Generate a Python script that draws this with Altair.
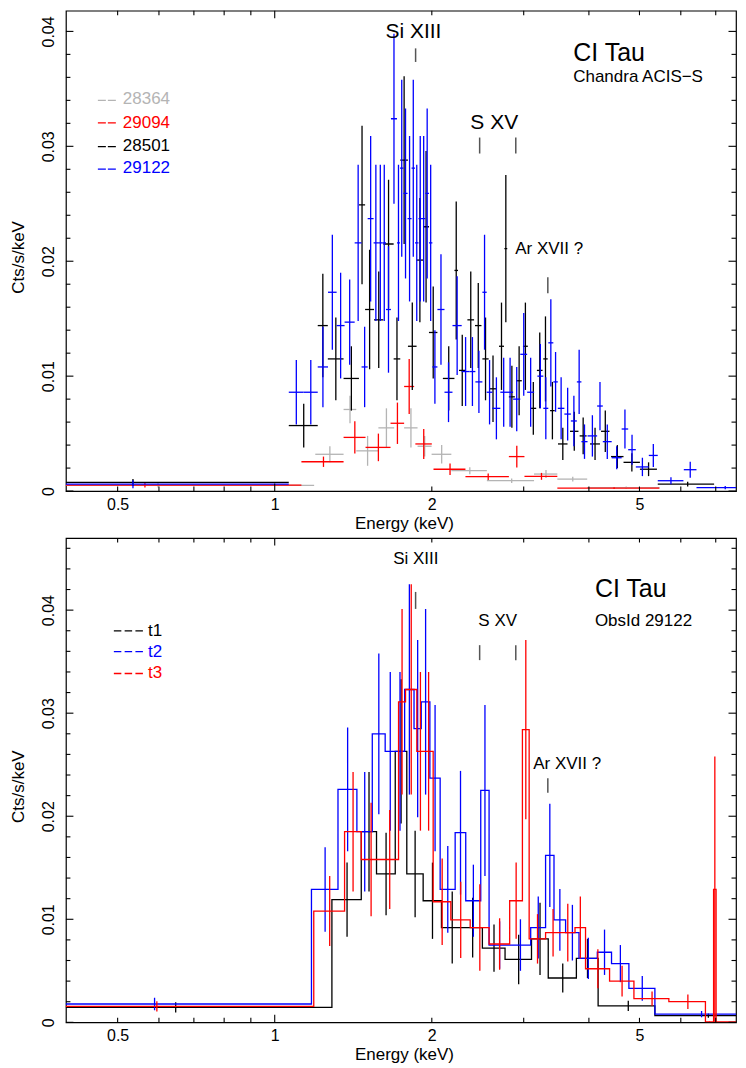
import altair as alt
import pandas as pd

FONT = "Liberation Sans"

# ---------------- top panel: four Chandra ObsIDs (grouped bins) ----------------
# bin low / high edge (keV), rate (cts/s/keV), 1-sigma error
gray_lo = [0.005, 1.196, 1.355, 1.433, 1.58, 1.77, 1.878, 1.998, 2.18, 2.55, 3.14, 3.48, 3.97]
gray_hi = [1.19, 1.355, 1.433, 1.58, 1.694, 1.878, 1.998, 2.18, 2.55, 3.14, 3.48, 3.97, 5.46]
gray_rate = [0.0005, 0.0032, 0.0071, 0.0035, 0.0055, 0.0055, 0.0039, 0.0032, 0.00177, 0.0009, 0.00148, 0.00104, 0.0003]
gray_err = [0.0002, 0.0007, 0.0012, 0.0013, 0.0017, 0.0017, 0.0009, 0.0008, 0.0003, 0.0002, 0.00035, 0.0002, 0.0001]

red_lo = [0.003, 1.125, 1.355, 1.493, 1.667, 1.77, 1.86, 2.015, 2.32, 2.81, 3.01, 3.48]
red_hi = [1.125, 1.355, 1.493, 1.667, 1.77, 1.85, 2.0, 2.32, 2.81, 3.01, 3.48, 5.46]
red_rate = [0.00052, 0.00255, 0.00467, 0.0038, 0.0059, 0.0091, 0.0041, 0.0019, 0.00125, 0.003, 0.00128, 0.00026]
red_err = [0.0002, 0.00045, 0.0014, 0.0012, 0.0018, 0.0024, 0.0013, 0.0005, 0.00028, 0.00095, 0.0003, 0.00008]

black_lo = [0.006, 1.064, 1.209, 1.264, 1.355, 1.450, 1.49, 1.55, 1.615, 1.69, 1.74, 1.80, 1.87, 1.925,
            1.975, 2.10, 2.21, 2.255, 2.34, 2.42, 2.50, 2.58, 2.69, 2.755, 2.81, 2.905, 2.99, 3.09, 3.18,
            3.27, 3.37, 3.49, 3.68, 3.84, 4.02, 4.22, 4.41, 4.66, 5.01, 5.42]
black_hi = [1.064, 1.209, 1.264, 1.355, 1.450, 1.49, 1.55, 1.615, 1.69, 1.74, 1.80, 1.87, 1.925, 1.975,
            2.05, 2.21, 2.245, 2.32, 2.41, 2.49, 2.57, 2.66, 2.75, 2.79, 2.885, 2.975, 3.055, 3.17, 3.26,
            3.335, 3.44, 3.64, 3.82, 3.96, 4.2, 4.38, 4.66, 5.01, 5.40, 6.95]
black_rate = [0.00076, 0.0057, 0.0144, 0.0115, 0.0098, 0.0249, 0.0158, 0.0149, 0.0215, 0.0115, 0.0288,
              0.0126, 0.0201, 0.023, 0.0138, 0.0098, 0.0192, 0.0105, 0.0149, 0.0144, 0.0115, 0.0089,
              0.0126, 0.0211, 0.0082, 0.0096, 0.0126, 0.0072, 0.0105, 0.0115, 0.007, 0.0041, 0.0052,
              0.0048, 0.0041, 0.0052, 0.003, 0.0025, 0.0019, 0.0006]
black_err = [0.0003, 0.0019, 0.0045, 0.0036, 0.0028, 0.0069, 0.0052, 0.0042, 0.0056, 0.0036, 0.0073,
             0.0038, 0.0054, 0.0066, 0.004, 0.0028, 0.006, 0.0031, 0.0042, 0.0037, 0.0036, 0.0029,
             0.0038, 0.0064, 0.0027, 0.003, 0.0038, 0.0023, 0.0033, 0.0037, 0.0025, 0.0014, 0.0017,
             0.0016, 0.0014, 0.0018, 0.001, 0.0008, 0.0006, 0.0002]

blue_lo = [0.006, 1.064, 1.136, 1.209, 1.265, 1.314, 1.361, 1.423, 1.467, 1.507, 1.547, 1.578, 1.609,
           1.634, 1.670, 1.715, 1.738, 1.765, 1.797, 1.829, 1.857, 1.886, 1.915, 1.944, 1.975, 2.005,
           2.050, 2.115, 2.191, 2.282, 2.361, 2.424, 2.500, 2.548, 2.613, 2.706, 2.787, 2.863, 2.955,
           3.046, 3.187, 3.271, 3.344, 3.419, 3.487, 3.590, 3.694, 3.793, 3.870, 3.976, 4.148, 4.253,
           4.423, 4.622, 4.757, 4.92, 5.21, 5.42, 6.08, 6.43]
blue_hi = [1.064, 1.136, 1.209, 1.265, 1.314, 1.361, 1.423, 1.467, 1.507, 1.547, 1.578, 1.609, 1.634,
           1.670, 1.715, 1.738, 1.765, 1.797, 1.829, 1.857, 1.886, 1.915, 1.944, 1.975, 2.005, 2.050,
           2.115, 2.191, 2.282, 2.361, 2.424, 2.500, 2.548, 2.613, 2.706, 2.787, 2.863, 2.955, 3.046,
           3.141, 3.271, 3.344, 3.419, 3.487, 3.590, 3.694, 3.793, 3.870, 3.976, 4.148, 4.253, 4.423,
           4.622, 4.757, 4.92, 5.21, 5.42, 6.07, 6.43, 8.17]
blue_rate = [0.0006, 0.0086, 0.0086, 0.0108, 0.0173, 0.0144, 0.0147, 0.0216, 0.0108, 0.0237, 0.0216,
             0.0216, 0.0216, 0.0158, 0.0324, 0.0216, 0.0281, 0.0259, 0.0237, 0.0281, 0.0216, 0.0237,
             0.0237, 0.0259, 0.0216, 0.0108, 0.0158, 0.0086, 0.0144, 0.0104, 0.0104, 0.0095, 0.0173,
             0.0086, 0.0072, 0.0086, 0.0086, 0.008, 0.0119, 0.0086, 0.010, 0.0072, 0.0129, 0.0095,
             0.0072, 0.0067, 0.0061, 0.0095, 0.0043, 0.0048, 0.0074, 0.0043, 0.0029, 0.0054, 0.0036,
             0.0021, 0.0031, 0.0009, 0.00186, 0.0003]
blue_err = [0.00035, 0.0028, 0.0028, 0.0035, 0.005, 0.0046, 0.0037, 0.0068, 0.0035, 0.0072, 0.0068,
            0.0068, 0.0068, 0.0055, 0.0074, 0.0068, 0.0077, 0.0074, 0.0072, 0.0077, 0.0068, 0.0072,
            0.0072, 0.0074, 0.0068, 0.0032, 0.0048, 0.0026, 0.0043, 0.003, 0.003, 0.0027, 0.005,
            0.0028, 0.0027, 0.003, 0.003, 0.0028, 0.0036, 0.003, 0.0028, 0.0027, 0.0038, 0.0026,
            0.0027, 0.0023, 0.0022, 0.0028, 0.0015, 0.0018, 0.0021, 0.0015, 0.001, 0.0017, 0.0013,
            0.0008, 0.001, 0.0003, 0.0007, 0.00015]

top_series = ["28364", "29094", "28501", "29122"]
top_colors = ["#b4b4b4", "#ff0000", "#000000", "#0000ff"]

# ---------------- bottom panel: ObsId 29122 in three time slices ----------------
t1_edges = [0.005, 1.287, 1.465, 1.567, 1.702, 1.791, 1.925, 2.087, 2.29, 2.5, 2.763, 3.105, 3.343,
            3.785, 4.166, 5.352, 8.2]
t1_rate = [0.00145, 0.0119, 0.0185, 0.0144, 0.0263, 0.0144, 0.0118, 0.0092, 0.0092, 0.0072, 0.0061,
           0.0081, 0.0043, 0.0062, 0.0016, 0.00065]
t1_err = [0.0005, 0.0036, 0.0058, 0.004, 0.007, 0.0042, 0.0037, 0.0035, 0.0029, 0.0023, 0.0024,
          0.0035, 0.0014, 0.0019, 0.0005, 0.0002]

t2_edges = [0.001, 1.176, 1.322, 1.437, 1.538, 1.628, 1.702, 1.774, 1.849, 1.909, 1.983, 2.075, 2.217,
            2.323, 2.482, 2.575, 2.820, 3.094, 3.304, 3.429, 3.609, 3.829, 4.151, 4.420, 4.772, 5.352,
            7.80, 8.5]
t2_rate = [0.00178, 0.0129, 0.0226, 0.0185, 0.028, 0.0263, 0.0263, 0.0323, 0.0285, 0.0311, 0.0237,
           0.0129, 0.0184, 0.0118, 0.0225, 0.0075, 0.0075, 0.0092, 0.0162, 0.00995, 0.0087, 0.0062,
           0.0068, 0.0057, 0.0033, 0.0008, 0.0]
t2_err = [0.0006, 0.0041, 0.006, 0.0058, 0.0078, 0.0077, 0.0077, 0.0102, 0.0086, 0.009, 0.0071,
          0.0042, 0.006, 0.0035, 0.0083, 0.0023, 0.0025, 0.003, 0.005, 0.003, 0.0027, 0.002,
          0.0022, 0.0018, 0.0012, 0.0003, 0.0]

t3_edges = [0.001, 1.188, 1.361, 1.465, 1.595, 1.727, 1.781, 1.872, 1.932, 2.012, 2.175, 2.369, 2.575,
            2.820, 2.983, 3.073, 3.304, 3.526, 3.762, 3.941, 4.382, 4.879, 5.692, 6.689, 6.934, 7.011, 8.5]
t3_rate = [0.00155, 0.0108, 0.0185, 0.0158, 0.0158, 0.0311, 0.0323, 0.0263, 0.0263, 0.0117, 0.00995,
           0.0092, 0.0076, 0.0118, 0.0284, 0.0081, 0.0087, 0.0087, 0.0092, 0.0052, 0.0040, 0.0023,
           0.0020, 0.00005, 0.0129, 0.00005]
t3_err = [0.0005, 0.0034, 0.0058, 0.0055, 0.0048, 0.009, 0.0102, 0.0077, 0.0077, 0.0042, 0.0037,
          0.0042, 0.0025, 0.0037, 0.0087, 0.0024, 0.0023, 0.0028, 0.003, 0.0019, 0.0015, 0.0007,
          0.0007, 0.00003, 0.0129, 0.00003]

bot_series = ["t1", "t2", "t3"]
bot_colors = ["#000000", "#0000ff", "#ff0000"]

# ---------------- ticks, labels, line markers ----------------
x_label_values = [0.5, 1, 2, 5]
x_major_ticks = [1]
x_minor_ticks = [0.5, 0.6, 0.7, 0.8, 0.9, 2, 3, 4, 5, 6, 7]
y_label_values = [0, 0.01, 0.02, 0.03, 0.04]
y_minor_top = [0.002, 0.004, 0.006, 0.008, 0.012, 0.014, 0.016, 0.018, 0.022, 0.024, 0.026, 0.028,
               0.032, 0.034, 0.036, 0.038]
y_minor_bot = y_minor_top + [0.042, 0.044, 0.046]
line_energies = [1.862, 2.47, 2.897, 3.337]   # Si XIII, S XV (2), Ar XVII ?

W = 671
H_TOP, H_BOT = 481, 485
XSCALE = alt.Scale(type="log", domain=[0.398, 7.655], nice=False)


def axes(H):
    xa = alt.Axis(values=x_label_values, labelExpr="format(datum.value, '~g')", title="Energy (keV)",
                  grid=False, ticks=False, domain=False, labelPadding=18,
                  labelBaseline="alphabetic", labelFlush=False, labelOverlap=False,
                  titleX=W / 2 + 3, titleY=37.5, titleBaseline="alphabetic", titleAlign="center")
    ya = alt.Axis(values=y_label_values, labelExpr="format(datum.value, '~g')", title="Cts/s/keV",
                  grid=False, ticks=False, domain=False, labelAngle=270,
                  labelAlign="center", labelBaseline="alphabetic", labelPadding=12.5,
                  labelOverlap=False, titleAngle=270, titleX=-42, titleY=H / 2 + 6,
                  titleBaseline="alphabetic", titleAlign="center")
    return xa, ya


def panel(H, yscale, y_minor, data_layers, annotations):
    xa, ya = axes(H)
    X = lambda f: alt.X(f, scale=XSCALE, axis=xa)
    Y = lambda f: alt.Y(f, scale=yscale, axis=ya)
    layers = [mk(X, Y) for mk in data_layers]
    # inward major / minor ticks on all four sides
    for vals, L in [(x_major_ticks, 7.5), (x_minor_ticks, 4.5)]:
        base = alt.Chart(pd.DataFrame({"v": vals})).mark_rule(color="black", strokeWidth=1.1)
        layers.append(base.encode(x=X("v:Q"), y=alt.value(H), y2=alt.value(H - L)))
        layers.append(base.encode(x=X("v:Q"), y=alt.value(0), y2=alt.value(L)))
    for vals, L in [(y_label_values, 7.5), (y_minor, 4.5)]:
        base = alt.Chart(pd.DataFrame({"v": vals})).mark_rule(color="black", strokeWidth=1.1)
        layers.append(base.encode(y=Y("v:Q"), x=alt.value(0), x2=alt.value(L)))
        layers.append(base.encode(y=Y("v:Q"), x=alt.value(W), x2=alt.value(W - L)))
    # emission-line markers
    for e, (y1, y2) in zip(line_energies, annotations["markers"]):
        layers.append(alt.Chart(pd.DataFrame({"e": [e]})).mark_rule(color="#555555", strokeWidth=1.5).encode(
            x=X("e:Q"), y=alt.value(y1), y2=alt.value(y2)))
    for txt, x, y, size, color in annotations["texts"]:
        layers.append(alt.Chart(pd.DataFrame({"t": [txt]})).mark_text(
            align="left", baseline="alphabetic", font=FONT, fontSize=size, color=color
        ).encode(x=alt.value(x), y=alt.value(y), text="t:N"))
    for color, x1, x2, y, dash in annotations["dashes"]:
        layers.append(alt.Chart(pd.DataFrame({"d": [0]})).mark_rule(
            color=color, strokeWidth=1.3, strokeDash=dash).encode(
            x=alt.value(x1), x2=alt.value(x2), y=alt.value(y)))
    return alt.layer(*layers).properties(width=W, height=H)


# ---------- top panel ----------
top_data = []
for name, col, lo, hi, rate, err in [("28364", top_colors[0], gray_lo, gray_hi, gray_rate, gray_err),
                                     ("29094", top_colors[1], red_lo, red_hi, red_rate, red_err),
                                     ("28501", top_colors[2], black_lo, black_hi, black_rate, black_err),
                                     ("29122", top_colors[3], blue_lo, blue_hi, blue_rate, blue_err)]:
    d = pd.DataFrame({"series": name, "lo": lo, "hi": hi, "rate": rate, "err": err})
    d["e"] = (d["lo"] + d["hi"]) / 2
    d["ylo"] = d["rate"] - d["err"]
    d["yhi"] = d["rate"] + d["err"]
    top_data.append(lambda X, Y, d=d, col=col: alt.Chart(d).mark_rule(
        clip=True, strokeWidth=1.3, color=col).encode(x=X("e:Q"), y=Y("ylo:Q"), y2="yhi:Q"))
    top_data.append(lambda X, Y, d=d, col=col: alt.Chart(d).mark_rule(
        clip=True, strokeWidth=1.3, color=col).encode(x=X("lo:Q"), x2="hi:Q", y=Y("rate:Q")))

top_ann = {
    "markers": [(37.7, 51.3), (127, 143), (127, 143), (267, 283)],
    "texts": [("Si XIII", 320, 27, 21, "black"), ("S XV", 405, 118.7, 21, "black"),
              ("Ar XVII ?", 450, 243.7, 17, "black"), ("CI Tau", 508, 50.3, 25, "black"),
              ("Chandra ACIS\u2212S", 508, 71.3, 17, "black")]
             + [(n, 57, y, 17, c) for n, c, y in zip(top_series, top_colors, [93.7, 117, 140.3, 162.7])],
    "dashes": [(c, 32, 51, y, [8, 2]) for c, y in zip(top_colors, [89.7, 112.3, 136, 158.7])],
}
top_panel = panel(H_TOP, alt.Scale(domain=[0, 0.0418], nice=False, zero=False), y_minor_top, top_data, top_ann)

# ---------- bottom panel ----------
bot_data = []
for name, col, edges, rate, err in [("t1", bot_colors[0], t1_edges, t1_rate, t1_err),
                                    ("t2", bot_colors[1], t2_edges, t2_rate, t2_err),
                                    ("t3", bot_colors[2], t3_edges, t3_rate, t3_err)]:
    s = pd.DataFrame({"series": name, "edge": edges, "rate": rate + [rate[-1]]})
    d = pd.DataFrame({"series": name, "lo": edges[:-1], "hi": edges[1:], "rate": rate, "err": err})
    d["e"] = (d["lo"] + d["hi"]) / 2
    d["ylo"] = d["rate"] - d["err"]
    d["yhi"] = d["rate"] + d["err"]
    bot_data.append(lambda X, Y, s=s, col=col: alt.Chart(s).mark_line(
        interpolate="step-after", clip=True, strokeWidth=1.3, color=col).encode(x=X("edge:Q"), y=Y("rate:Q")))
    bot_data.append(lambda X, Y, d=d, col=col: alt.Chart(d).mark_rule(
        clip=True, strokeWidth=1.3, color=col).encode(x=X("e:Q"), y=Y("ylo:Q"), y2="yhi:Q"))

bot_ann = {
    "markers": [(54, 71), (107.3, 122.3), (107.3, 122.3), (240.7, 255)],
    "texts": [("Si XIII", 327.7, 25.7, 17, "black"), ("S XV", 413, 88, 17, "black"),
              ("Ar XVII ?", 468, 231.3, 17, "black"), ("CI Tau", 529.7, 59, 25, "black"),
              ("ObsId 29122", 529.7, 88, 17, "black")]
             + [(n, 82.3, y, 17, c) for n, c, y in zip(bot_series, bot_colors, [98.3, 119, 139.7])],
    "dashes": [(c, 48, 77.3, y, [7.5, 3.3]) for c, y in zip(bot_colors, [93, 113.7, 135.7])],
}
bot_panel = panel(H_BOT, alt.Scale(domain=[0, 0.047], nice=False, zero=False), y_minor_bot, bot_data, bot_ann)

chart = alt.vconcat(top_panel, bot_panel, spacing=47, bounds="flush").properties(
    padding={"left": 1, "top": 0, "right": 0, "bottom": 0},
    background="white",
).configure_view(stroke="black", strokeWidth=1.2).configure_axis(
    labelFont=FONT, titleFont=FONT, labelFontSize=16, titleFontSize=17,
    labelColor="black", titleColor="black", titleFontWeight="normal")

chart.save("out.html", embed_options={"renderer": "svg", "actions": False})
